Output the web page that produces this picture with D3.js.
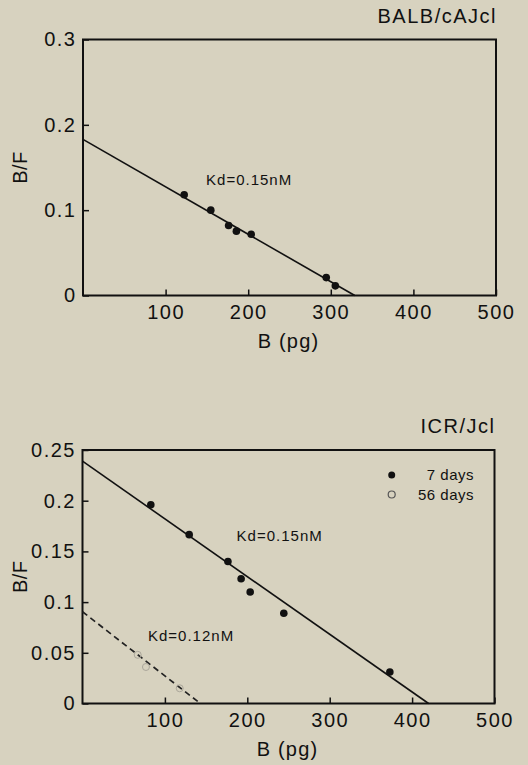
<!DOCTYPE html>
<html>
<head>
<meta charset="utf-8">
<title>Scatchard plots</title>
<script src="https://d3js.org/d3.v7.min.js"></script>
<style>
  body { margin: 0; background-color: #d7d2bf; }
  svg { display: block; font-family: "Liberation Sans", Arial, sans-serif; }
  .tick line { stroke: #111; stroke-width: 1.5px; }
  .tick text { font-size: 20px; fill: #111; letter-spacing: 1.5px; }
</style>
</head>
<body>
<div id="chart"></div>
<script>
// ---- data ----
var xTicks = [100, 200, 300, 400, 500];

// BALB/cAJcl
var balbB  = [122.5, 154.7, 176.3, 185.7, 203.6, 294.5, 305.5];
var balbBF = [0.118, 0.100, 0.082, 0.0754, 0.0718, 0.021, 0.0113];
var balbFit = [[0, 0.183], [329, 0]];
var balbYTicks = [0, 0.1, 0.2, 0.3];

// ICR/Jcl, 7 days
var icr7B  = [82.9, 129.5, 176.5, 192.5, 203.5, 244.3, 373];
var icr7BF = [0.196, 0.1665, 0.140, 0.123, 0.110, 0.089, 0.031];
var icr7Fit = [[0, 0.239], [420, 0]];
// ICR/Jcl, 56 days (faint open circles)
var icr56B  = [67, 77, 118];
var icr56BF = [0.048, 0.036, 0.015];
var icr56Fit = [[0, 0.0905], [143, 0]];
var icrYTicks = [0, 0.05, 0.1, 0.15, 0.2, 0.25];

var width = 528, height = 765;
var svg = d3.select("#chart").append("svg")
    .attr("width", width)
    .attr("height", height);

function panel(opt) {
    var x = d3.scaleLinear().domain([0, 500]).range([opt.left, opt.right]);
    var y = d3.scaleLinear().domain([0, opt.yMax]).range([opt.bottom, opt.top]);
    var g = svg.append("g");

    // axes (ticks point inward)
    g.append("g")
        .attr("transform", "translate(0," + opt.bottom + ")")
        .call(d3.axisBottom(x).tickValues(xTicks).tickSizeInner(-6).tickSizeOuter(0).tickPadding(9.5))
        .call(function(s) { s.select(".domain").remove(); });
    g.append("g")
        .attr("transform", "translate(" + opt.left + ",0)")
        .call(d3.axisLeft(y).tickValues(opt.yTicks).tickSizeInner(-6).tickSizeOuter(0).tickPadding(6.5)
            .tickFormat(function(d) { return d === 0 ? "0" : String(d); }))
        .call(function(s) { s.select(".domain").remove(); });

    // frame
    g.append("rect")
        .attr("x", opt.left).attr("y", opt.top)
        .attr("width", opt.right - opt.left).attr("height", opt.bottom - opt.top)
        .attr("fill", "none").attr("stroke", "#111").attr("stroke-width", 2);

    // axis titles
    g.append("text")
        .attr("x", (opt.left + opt.right) / 2 - 1).attr("y", opt.bottom + 52)
        .attr("text-anchor", "middle").attr("font-size", 20).attr("letter-spacing", 1.2)
        .attr("fill", "#111")
        .text("B (pg)");
    g.append("text")
        .attr("transform", "translate(27," + ((opt.top + opt.bottom) / 2) + ") rotate(-90)")
        .attr("text-anchor", "middle").attr("font-size", 20).attr("letter-spacing", 0.5)
        .attr("fill", "#111")
        .text("B/F");

    // strain title
    g.append("text")
        .attr("x", opt.right + 1).attr("y", opt.top - 17)
        .attr("text-anchor", "end").attr("font-size", 20).attr("letter-spacing", 1.5)
        .attr("fill", "#111")
        .text(opt.title);

    var line = d3.line().x(function(d) { return x(d[0]); }).y(function(d) { return y(d[1]); });
    return { g: g, x: x, y: y, line: line };
}

// ---- top panel ----
var p1 = panel({ left: 83, right: 496, top: 39.5, bottom: 295.5, yMax: 0.3,
                 yTicks: balbYTicks, title: "BALB/cAJcl" });
p1.g.append("path").attr("d", p1.line(balbFit))
    .attr("fill", "none").attr("stroke", "#111").attr("stroke-width", 1.6);
p1.g.selectAll("circle.pt").data(balbB).enter().append("circle")
    .attr("cx", function(d) { return p1.x(d); })
    .attr("cy", function(d, i) { return p1.y(balbBF[i]); })
    .attr("r", 3.8).attr("fill", "#111");
p1.g.append("text")
    .attr("x", p1.x(149)).attr("y", p1.y(0.1295))
    .attr("font-size", 15).attr("letter-spacing", 1).attr("fill", "#111")
    .text("Kd=0.15nM");

// ---- bottom panel ----
var p2 = panel({ left: 82.5, right: 494.5, top: 450, bottom: 703.5, yMax: 0.25,
                 yTicks: icrYTicks, title: "ICR/Jcl" });
p2.g.append("path").attr("d", p2.line(icr7Fit))
    .attr("fill", "none").attr("stroke", "#111").attr("stroke-width", 1.6);
p2.g.append("path").attr("d", p2.line(icr56Fit))
    .attr("fill", "none").attr("stroke", "#222").attr("stroke-width", 1.7)
    .attr("stroke-dasharray", "6,4");
p2.g.selectAll("circle.open").data(icr56B).enter().append("circle")
    .attr("cx", function(d) { return p2.x(d); })
    .attr("cy", function(d, i) { return p2.y(icr56BF[i]); })
    .attr("r", 3.5).attr("fill", "none").attr("stroke", "#aaa69a").attr("stroke-width", 1);
p2.g.selectAll("circle.pt").data(icr7B).enter().append("circle")
    .attr("cx", function(d) { return p2.x(d); })
    .attr("cy", function(d, i) { return p2.y(icr7BF[i]); })
    .attr("r", 3.8).attr("fill", "#111");
p2.g.append("text")
    .attr("x", p2.x(187)).attr("y", p2.y(0.160))
    .attr("font-size", 15).attr("letter-spacing", 1).attr("fill", "#111")
    .text("Kd=0.15nM");
p2.g.append("text")
    .attr("x", p2.x(79.5)).attr("y", p2.y(0.0617))
    .attr("font-size", 15).attr("letter-spacing", 1).attr("fill", "#111")
    .text("Kd=0.12nM");

// legend
var legend = p2.g.append("g").attr("font-size", 15).attr("letter-spacing", 0.5).attr("fill", "#111");
legend.append("circle").attr("cx", 391.7).attr("cy", 475).attr("r", 3.5).attr("fill", "#111");
legend.append("text").attr("x", 474).attr("y", 480).attr("text-anchor", "end").text("7 days");
legend.append("circle").attr("cx", 391.7).attr("cy", 494.5).attr("r", 3.5)
    .attr("fill", "none").attr("stroke", "#555").attr("stroke-width", 1.2);
legend.append("text").attr("x", 474).attr("y", 499.5).attr("text-anchor", "end").text("56 days");
</script>
</body>
</html>
